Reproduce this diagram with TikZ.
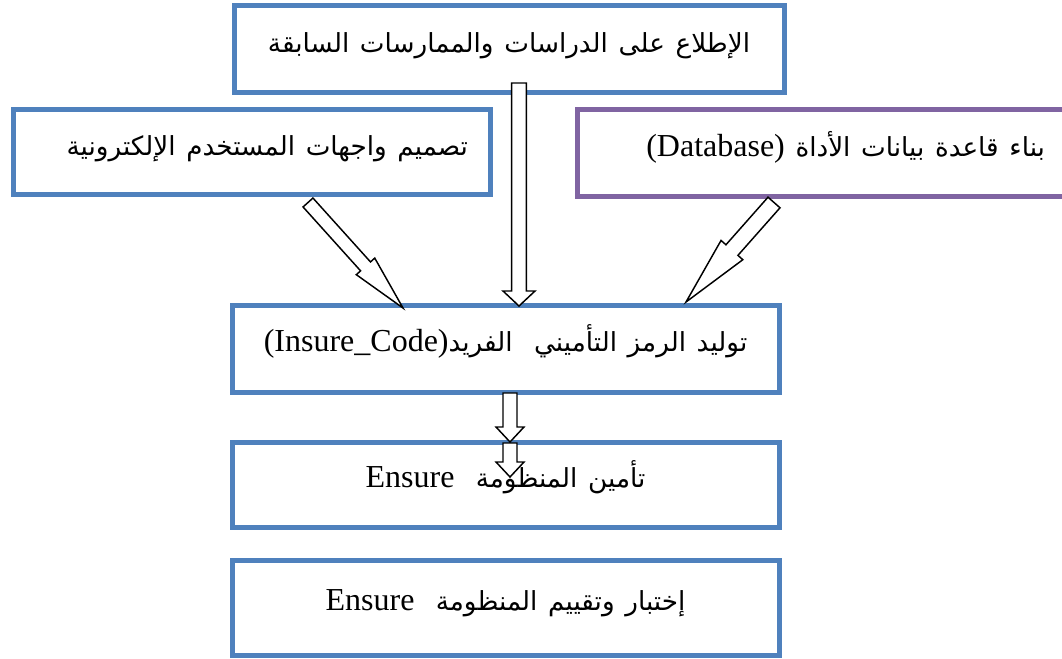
\documentclass[tikz,border=0pt]{standalone}
\usepackage{fontspec}
\setmainfont{Liberation Serif}
\newfontfamily\arabicfont[Script=Arabic,Scale=0.82]{DejaVu Sans}
\TeXXeTstate=1
\usetikzlibrary{calc,positioning}

\definecolor{stageblue}{HTML}{4F81BD}
\definecolor{stagepurple}{HTML}{8064A2}

\tikzset{
  stage/.style={rectangle, draw=stageblue, line width=3.75pt, fill=white,
    inner sep=0pt, text height=12pt, text depth=7.5pt,
    font=\fontsize{24}{28}\selectfont},
  dbstage/.style={stage, draw=stagepurple},
  hollow/.style={draw=black, fill=white, line width=1.1pt, line join=miter},
}

% hollow block arrow: name, tail, tip, half shaft, half head, head length
\newcommand{\blockarrow}[6]{%
  \coordinate (#1-neck) at ($(#3)!#6!(#2)$);
  \draw[hollow] ($(#2)!#4!90:(#3)$) -- ($(#1-neck)!#4!90:(#3)$)
    -- ($(#1-neck)!#5!90:(#3)$) -- (#3)
    -- ($(#1-neck)!#5!-90:(#3)$) -- ($(#1-neck)!#4!-90:(#3)$)
    -- ($(#2)!#4!-90:(#3)$) -- cycle;
}

\begin{document}
\begin{tikzpicture}[x=0.75pt, y=-0.75pt]
    \clip (0,0) rectangle (1062,659);

    % the stages, placed at their centres
    \begin{scope}
    \node[stage, minimum width=412.5pt, minimum height=65.25pt,
          text width=400pt, align=center] (lit) at (509,49.5)
      {\beginR{\arabicfont الإطلاع على الدراسات والممارسات السابقة}\endR};
    \node[stage, minimum width=357.75pt, minimum height=63.75pt,
          text width=324.75pt, align=right] (ui) at (251.5,152.5)
      {\beginR{\arabicfont تصميم واجهات المستخدم الإلكترونية}\endR};
    \node[dbstage, minimum width=373.5pt, minimum height=65.25pt,
          text width=328.5pt, align=right] (db) at (826,153.5)
      {\beginR{\arabicfont بناء قاعدة بيانات الأداة} \beginL(Database)\endL\endR};
    \node[stage, minimum width=410.25pt, minimum height=65.25pt,
          text width=400pt, align=center] (code) at (505.5,348.5)
      {\beginR{\arabicfont توليد الرمز التأميني\ \ الفريد}\beginL(Insure\_Code)\endL\endR};
    \node[stage, minimum width=410.25pt, minimum height=63.75pt,
          text width=400pt, align=center] (ensure) at (505.5,484.5)
      {\beginR{\arabicfont تأمين المنظومة}\ \ \beginL Ensure\endL\endR};
    \node[stage, minimum width=410.25pt, minimum height=71.25pt,
          text width=400pt, align=center] (test) at (505.5,607.5)
      {\beginR{\arabicfont إختبار وتقييم المنظومة}\ \ \beginL Ensure\endL\endR};
    \end{scope}

    % arrow ends
    \coordinate (lit-out) at (519,83);
    \coordinate (code-in) at (519,306);
    \coordinate (ui-out) at (308,202.5);
    \coordinate (code-inl) at (403,308);
    \coordinate (db-out) at (774,202.5);
    \coordinate (code-inr) at (686,302);
    \coordinate (code-out) at (510,393);
    \coordinate (ensure-in) at (510,442);
    \coordinate (ensure-out) at (510,443);
    \coordinate (test-in) at (510,477);

    % block arrows
    \blockarrow{a1}{lit-out}{code-in}{5.6pt}{12pt}{11.25pt}
    \blockarrow{a2}{ui-out}{code-inl}{5pt}{9.3pt}{42pt}
    \blockarrow{a3}{db-out}{code-inr}{6pt}{10.9pt}{52pt}
    \blockarrow{a4}{code-out}{ensure-in}{5.25pt}{10.5pt}{11.25pt}
    \blockarrow{a5}{ensure-out}{test-in}{5.25pt}{10.5pt}{11.25pt}

\end{tikzpicture}
\end{document}
